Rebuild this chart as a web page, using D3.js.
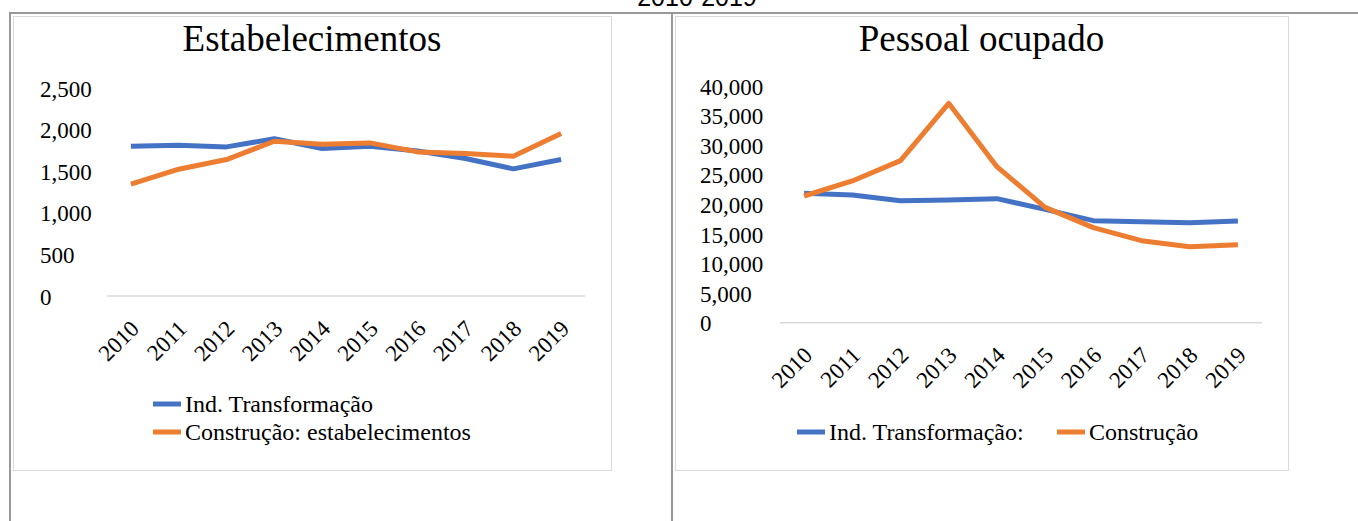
<!DOCTYPE html>
<html>
<head>
<meta charset="utf-8">
<script src="https://cdn.jsdelivr.net/npm/d3@7"></script>
<style>
  html, body { margin: 0; padding: 0; background: #fff; }
  svg { display: block; }
</style>
</head>
<body>
<svg id="chart" width="1358" height="521"></svg>
<script>
const years = ["2010","2011","2012","2013","2014","2015","2016","2017","2018","2019"];

// Estabelecimentos
const estIndTransf = [1800, 1812, 1792, 1890, 1772, 1800, 1742, 1652, 1528, 1640];
const estConstrucao = [1344, 1524, 1640, 1860, 1824, 1840, 1732, 1712, 1680, 1952];
const estTicks = [0, 500, 1000, 1500, 2000, 2500];

// Pessoal ocupado
const pesIndTransf = [21860, 21580, 20620, 20730, 20960, 19160, 17240, 17070, 16900, 17180];
const pesConstrucao = [21410, 23950, 27380, 37070, 26370, 19490, 16060, 13860, 12850, 13180];
const pesTicks = [0, 5000, 10000, 15000, 20000, 25000, 30000, 35000, 40000];

const pageTitle = "2010-2019";
const leftTitle = "Estabelecimentos";
const rightTitle = "Pessoal ocupado";
const leftLegend = ["Ind. Transformação", "Construção: estabelecimentos"];
const rightLegend = ["Ind. Transformação:", "Construção"];

const BLUE = "#4472C4", ORANGE = "#ED7D31";
const SERIF = "'Liberation Serif', 'Times New Roman', serif";

const svg = d3.select("#chart");

// page title (cut off at top, as in the source)
svg.append("text").attr("x", 697).attr("y", 6)
  .attr("text-anchor", "middle")
  .attr("font-family", "'Liberation Sans', Arial, sans-serif")
  .attr("font-size", 25).attr("fill", "#000").text(pageTitle);

// table borders
svg.append("line").attr("x1", 9).attr("x2", 1358).attr("y1", 13).attr("y2", 13)
  .attr("stroke", "#999").attr("stroke-width", 2);
svg.append("line").attr("x1", 10).attr("x2", 10).attr("y1", 12).attr("y2", 521)
  .attr("stroke", "#999").attr("stroke-width", 2);
svg.append("line").attr("x1", 672).attr("x2", 672).attr("y1", 12).attr("y2", 521)
  .attr("stroke", "#999").attr("stroke-width", 2);

function drawChart(cfg) {
  const g = svg.append("g");
  g.append("rect").attr("x", cfg.box[0] + 0.5).attr("y", cfg.box[1] + 0.5)
    .attr("width", cfg.box[2] - cfg.box[0]).attr("height", cfg.box[3] - cfg.box[1])
    .attr("fill", "#fff").attr("stroke", "#d9d9d9").attr("stroke-width", 1);

  g.append("text").attr("x", (cfg.box[0] + cfg.box[2]) / 2).attr("y", 51)
    .attr("text-anchor", "middle").attr("font-family", SERIF)
    .attr("font-size", 37).attr("fill", "#000").text(cfg.title);

  const x = d3.scalePoint().domain(years).range([cfg.plotX0, cfg.plotX1]).padding(0.5);
  const y = d3.scaleLinear().domain([0, cfg.ticks[cfg.ticks.length - 1]]).range([cfg.y0, cfg.yTop]);

  g.append("line").attr("x1", cfg.plotX0).attr("x2", cfg.plotX1)
    .attr("y1", y(0)).attr("y2", y(0))
    .attr("stroke", "#d9d9d9").attr("stroke-width", 1.5);

  const ya = g.append("g").attr("transform", `translate(${cfg.labelX},0)`)
    .call(d3.axisLeft(y).tickValues(cfg.ticks).tickSize(0).tickPadding(0).tickFormat(d3.format(",")));
  ya.select(".domain").remove();
  ya.selectAll("text").attr("text-anchor", "start").attr("x", 0).attr("dy", "0.35em")
    .attr("font-family", SERIF).attr("font-size", 23).attr("fill", "#000");

  const xa = g.append("g").attr("transform", `translate(0,${y(0)})`)
    .call(d3.axisBottom(x).tickSize(0).tickPadding(0));
  xa.select(".domain").remove();
  xa.selectAll(".tick text")
    .attr("font-family", SERIF).attr("font-size", 23).attr("fill", "#000")
    .attr("text-anchor", "end").attr("y", 0).attr("dy", 0)
    .attr("transform", "translate(9,34) rotate(-45)");

  const line = d3.line().x((d, i) => x(years[i])).y(d => y(d));
  [[cfg.s1, BLUE], [cfg.s2, ORANGE]].forEach(([data, col]) => {
    g.append("path").datum(data).attr("d", line)
      .attr("fill", "none").attr("stroke", col).attr("stroke-width", 5)
      .attr("stroke-linejoin", "round");
  });

  cfg.legend.forEach((L, i) => {
    const col = i === 0 ? BLUE : ORANGE;
    g.append("line").attr("x1", L.x).attr("x2", L.x + 28).attr("y1", L.y).attr("y2", L.y)
      .attr("stroke", col).attr("stroke-width", 5);
    g.append("text").attr("x", L.x + 32).attr("y", L.y).attr("dy", "0.35em")
      .attr("font-family", SERIF).attr("font-size", 24).attr("fill", "#000").text(L.text);
  });
}

drawChart({
  box: [13, 16, 611, 470], title: leftTitle,
  plotX0: 107, plotX1: 585, y0: 296, yTop: 88, labelX: 40,
  ticks: estTicks, s1: estIndTransf, s2: estConstrucao,
  legend: [{x: 153, y: 404, text: leftLegend[0]}, {x: 153, y: 432, text: leftLegend[1]}]
});

drawChart({
  box: [675, 16, 1288, 470], title: rightTitle,
  plotX0: 780, plotX1: 1262, y0: 322.7, yTop: 86, labelX: 700,
  ticks: pesTicks, s1: pesIndTransf, s2: pesConstrucao,
  legend: [{x: 797, y: 432, text: rightLegend[0]}, {x: 1057, y: 432, text: rightLegend[1]}]
});
</script>
</body>
</html>
